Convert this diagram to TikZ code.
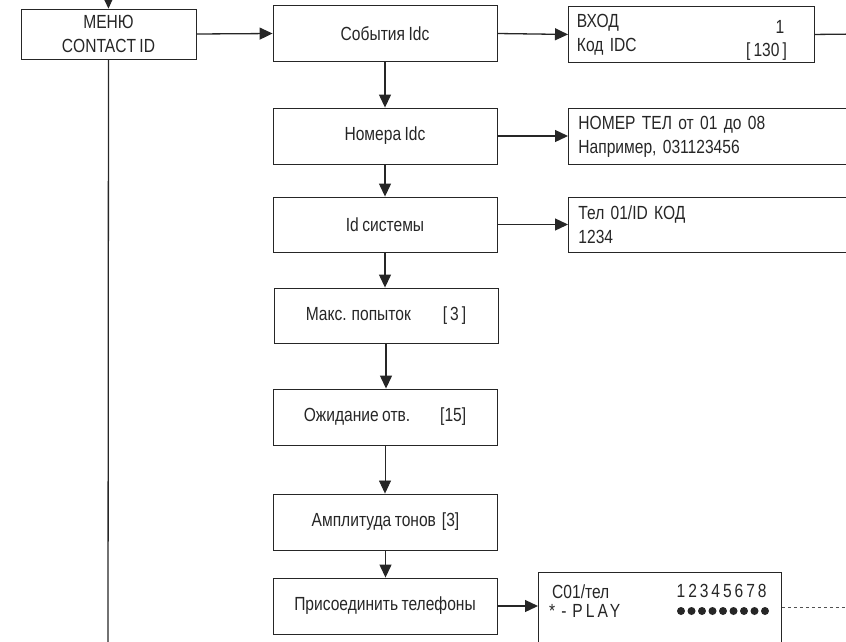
\documentclass[tikz,border=0pt]{standalone}
\usepackage{fontspec}
\setmainfont{Liberation Sans}[FakeStretch=0.82, WordSpace=0.8]
\usetikzlibrary{arrows.meta,positioning,calc}
\definecolor{ink}{HTML}{262626}

\begin{document}
\begin{tikzpicture}[x=1pt,y=-1pt,
  box/.style={draw=ink, line width=0.9pt, rectangle, inner sep=0pt, text=ink,
    font=\fontsize{19}{24}\selectfont, minimum width=224, minimum height=56},
  lcd/.style={draw=ink, line width=0.9pt, rectangle, anchor=north west, text=ink,
    font=\fontsize{19}{24}\selectfont, align=left, inner xsep=8pt},
  txt/.style={inner sep=0pt, text=ink, font=\fontsize{19}{21}\selectfont},
  link/.style={draw=ink, line width=1.3pt, -{Triangle[length=13pt,width=12pt]}},
  faint/.style={link, line width=0.7pt}
]
  \useasboundingbox (0,0) rectangle (846,641);

  % Menu entry
  \node[box, minimum width=175, minimum height=50, align=center] (menu) at (108.5,34)
    {МЕНЮ\\CONTACT ID};
  \coordinate (intop) at (108,-20);
  \coordinate (inbot) at (108,660);
  \draw[link] (intop) -- (menu.north);
  \draw[draw=ink, line width=1.3pt] (menu.south) -- (inbot);

  % Main column
  \node[box] (events) at (385,33.5) {События Idc};
  \node[box] (numbers) at (385,136) {Номера Idc};
  \node[box, minimum height=55] (sysid) at (385,224.5) {Id системы};
  \node[box, minimum height=55] (retries) at (386,315.5)
    {Макс. попыток\hspace{32pt}[\hspace{3pt}3\hspace{3pt}]};
  \node[box] (answer) at (385,417) {Ожидание отв.\hspace{30pt}[15]};
  \node[box] (level) at (385.5,522) {Амплитуда тонов\hspace{6pt}[3]};
  \node[box] (phones) at (385,606) {Присоединить телефоны};

  % Display boxes
  \node[lcd, minimum width=246, minimum height=56, text width=229] (entry) at (568,6)
    {ВХОД\\Код IDC};
  \node[txt] (entrynum) at (780,27) {1};
  \node[txt] (entrycode) at (766.5,52) {[\hspace{3pt}130\hspace{3pt}]};
  \node[lcd, minimum width=300, minimum height=56, text width=280] (telnum) at (568,108)
    {НОМЕР ТЕЛ от 01 до 08\\Например, 031123456};
  \node[lcd, minimum width=300, minimum height=55, text width=280] (telid) at (568,197)
    {Тел 01/ID КОД\\1234};
  \node[lcd, minimum width=243, minimum height=95] (tones) at (538,572) {};
  \node[txt, anchor=west] (tonesa) at (552,592) {C01/тел};
  \node[txt, anchor=west] (tonesb) at (549,611)
    {*\hspace{6pt}-\hspace{6pt}\addfontfeature{LetterSpace=16}PLAY};
  \foreach \d [count=\i] in {1,...,8}
    \node[txt] (digit\i) at (681+11.6*\i-11.6,591) {\d};
  \foreach \i in {1,...,9}
    \fill[ink] (681+10.5*\i-10.5,611) circle (4pt);
  \coordinate (entryout) at (860,34);
  \coordinate (tonesout) at (860,607);

  % Connectors
  \draw[link] (menu.east) -- (events.west);
  \draw[link] (events.east) -- (entry.west);
  \draw[draw=ink, line width=1.3pt] (entry.east) -- (entryout);
  \draw[link] (events.south) -- (numbers.north);
  \draw[link] (numbers.east) -- (numbers.east -| telnum.west);
  \draw[link] (numbers.south) -- (sysid.north);
  \draw[link] (sysid.east) -- (sysid.east -| telid.west);
  \draw[link] (sysid.south) -- (sysid.south |- retries.north);
  \draw[link] (retries.south) -- (retries.south |- answer.north);
  \draw[faint] (answer.south) -- (answer.south |- level.north);
  \draw[link] (level.south) -- (level.south |- phones.north);
  \draw[link] (phones.east) -- (phones.east -| tones.west);
  \draw[ink!80, line width=0.7pt, dashed] (tones.east |- tonesout) -- (tonesout);
\end{tikzpicture}
\end{document}
